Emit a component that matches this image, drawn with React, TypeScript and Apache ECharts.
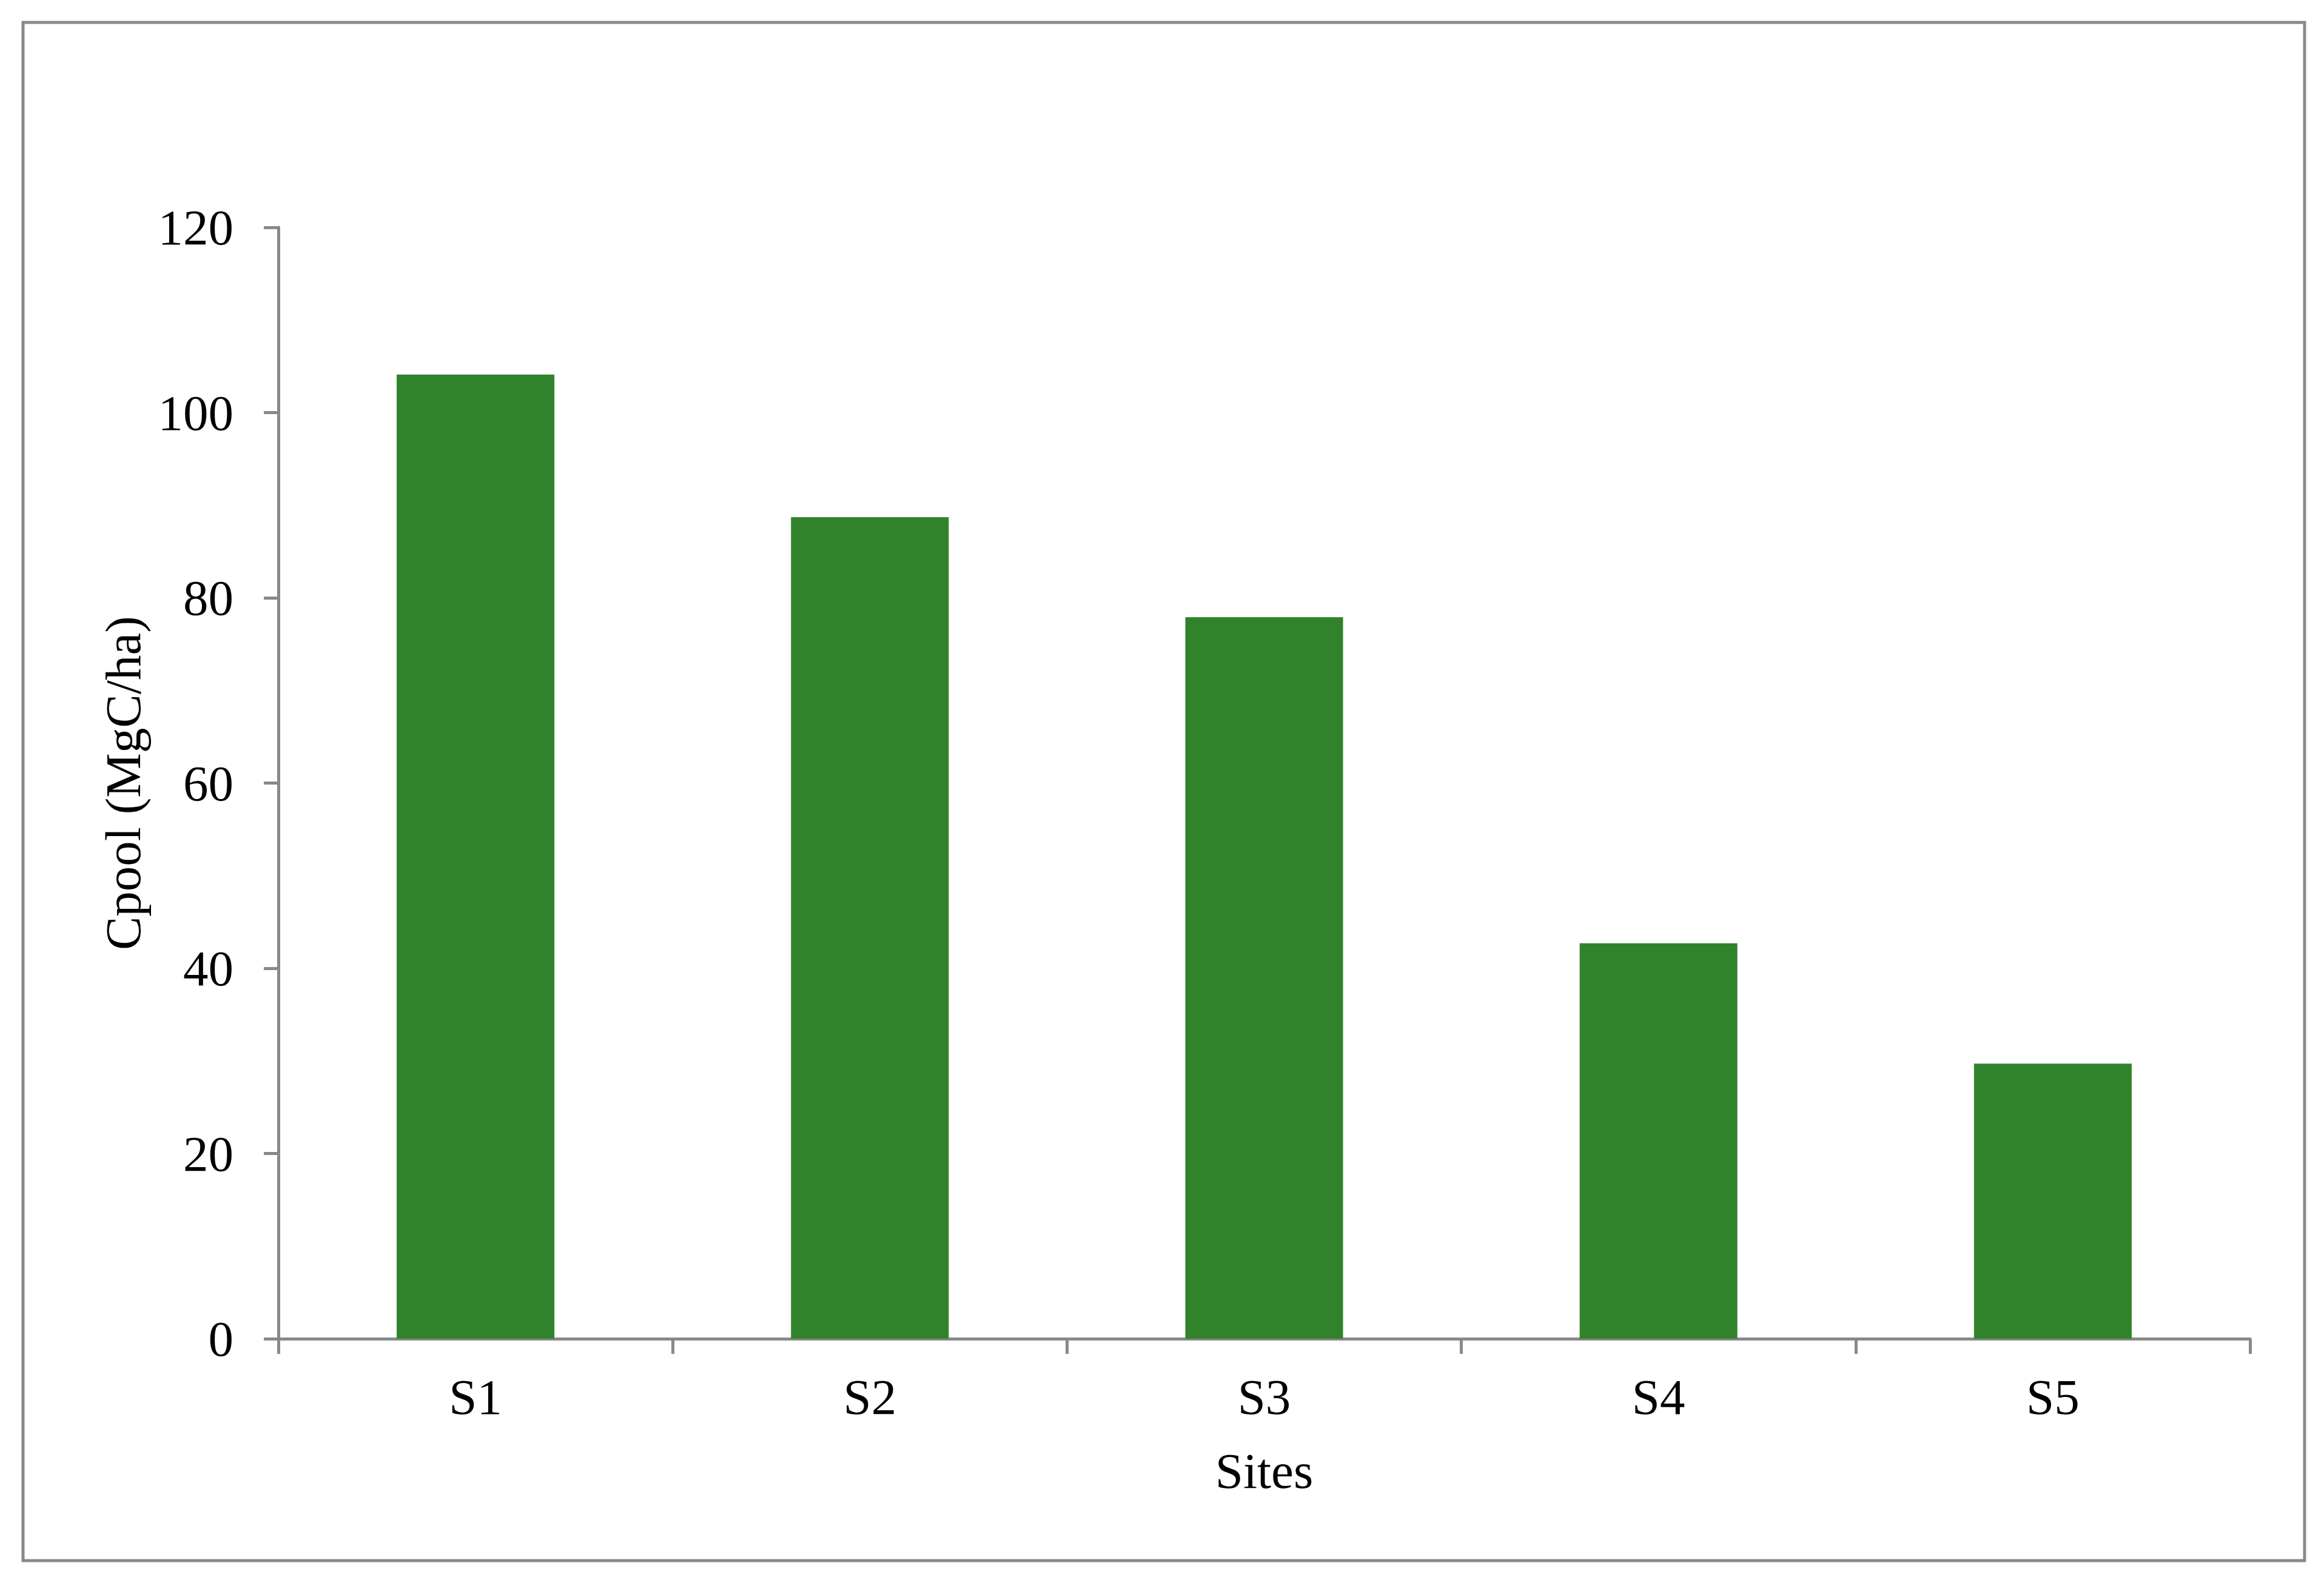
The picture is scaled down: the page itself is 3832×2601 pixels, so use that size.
import React, { useEffect, useRef } from "react";
import * as echarts from "echarts";

const categories = ["S1", "S2", "S3", "S4", "S5"];
const cpoolValues = [104.1, 88.7, 77.9, 42.7, 29.7];
const yTickValues = [0, 20, 40, 60, 80, 100, 120];
const xAxisTitle = "Sites";
const yAxisTitle = "Cpool (MgC/ha)";

const W = 3832;
const H = 2601;
const FONT = "'Liberation Serif', 'Times New Roman', serif";
const GREY = "#898989";

export default function App() {
  const ref = useRef<HTMLDivElement>(null);
  useEffect(() => {
    document.body.style.margin = "0";
    if (!ref.current) return;
    const chart = echarts.init(ref.current, undefined, { renderer: "svg", width: W, height: H });
    chart.setOption({
      animation: false,
      backgroundColor: "#ffffff",
      grid: { left: 459, right: W - 3710, top: 375, bottom: H - 2208, containLabel: false },
      graphic: [
        {
          type: "rect",
          shape: { x: 38, y: 37, width: 3800 - 38, height: 2574 - 37 },
          style: { fill: "none", stroke: GREY, lineWidth: 5 },
          silent: true,
        },
      ],
      xAxis: {
        type: "category",
        data: categories,
        name: xAxisTitle,
        nameLocation: "middle",
        nameGap: 176,
        nameTextStyle: { fontFamily: FONT, fontSize: 83, color: "#000" },
        axisLine: { show: true, lineStyle: { color: GREY, width: 5 } },
        axisTick: { show: true, inside: false, length: 25, lineStyle: { color: GREY, width: 5 } },
        axisLabel: { fontFamily: FONT, fontSize: 83, color: "#000", margin: 54 },
        splitLine: { show: false },
      },
      yAxis: {
        type: "value",
        min: yTickValues[0],
        max: yTickValues[yTickValues.length - 1],
        interval: yTickValues[1] - yTickValues[0],
        name: yAxisTitle,
        nameLocation: "middle",
        nameGap: 215,
        nameTextStyle: { fontFamily: FONT, fontSize: 83, color: "#000" },
        axisLine: { show: true, lineStyle: { color: GREY, width: 5 } },
        axisTick: { show: true, inside: false, length: 24, lineStyle: { color: GREY, width: 5 } },
        axisLabel: { fontFamily: FONT, fontSize: 83, color: "#000", margin: 74 },
        splitLine: { show: false },
      },
      series: [
        {
          type: "bar",
          data: cpoolValues,
          barCategoryGap: "60%",
          itemStyle: { color: "#31832B" },
        },
      ],
    });
    return () => chart.dispose();
  }, []);
  return <div ref={ref} style={{ width: W, height: H }} />;
}
